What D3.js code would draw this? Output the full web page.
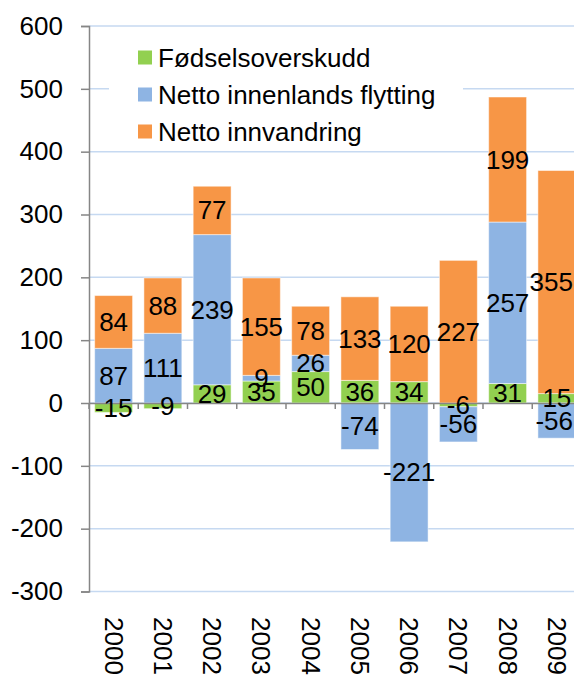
<!DOCTYPE html>
<html>
<head>
<meta charset="utf-8">
<script src="https://cdn.jsdelivr.net/npm/d3@7"></script>
<style>
  body { margin: 0; background: #fff; }
  text { font-family: "Liberation Sans", Arial, sans-serif; fill: #000; }
</style>
</head>
<body>
<svg id="chart" width="574" height="675"></svg>
<script>
// data
var years = ['2000', '2001', '2002', '2003', '2004', '2005', '2006', '2007', '2008', '2009'];
var seriesNames = ['Fødselsoverskudd', 'Netto innenlands flytting', 'Netto innvandring'];
var fodsel = [-15, -9, 29, 35, 50, 36, 34, -6, 31, 15];
var innenlands = [87, 111, 239, 9, 26, -74, -221, -56, 257, -56];
var innvandring = [84, 88, 77, 155, 78, 133, 120, 227, 199, 355];
var yTicks = [-300, -200, -100, 0, 100, 200, 300, 400, 500, 600];
var colors = ['#92d050', '#8eb4e3', '#f79646'];

var FONT = 26;
var W = 574;
var svg = d3.select('#chart');

var rows = years.map(function(y, i) {
  var r = { year: y };
  r[seriesNames[0]] = fodsel[i];
  r[seriesNames[1]] = innenlands[i];
  r[seriesNames[2]] = innvandring[i];
  return r;
});

var stacked = d3.stack()
  .keys(seriesNames)
  .offset(d3.stackOffsetDiverging)(rows);

var x = d3.scaleBand()
  .domain(years)
  .range([89, 581.5])
  .paddingInner(0.23)
  .paddingOuter(0.115);

var y = d3.scaleLinear()
  .domain([-300, 600])
  .range([591.5, 26]);

// gridlines
svg.append('g')
  .selectAll('line')
  .data(yTicks)
  .enter()
  .append('line')
  .attr('x1', 89)
  .attr('x2', W)
  .attr('y1', function(d) { return y(d); })
  .attr('y2', function(d) { return y(d); })
  .attr('stroke', '#c6d9f1')
  .attr('stroke-width', 1.5);

// bars
var layers = svg.append('g')
  .selectAll('g')
  .data(stacked)
  .enter()
  .append('g')
  .attr('fill', function(d, i) { return colors[i]; });

layers.selectAll('rect')
  .data(function(d) { return d; })
  .enter()
  .append('rect')
  .attr('x', function(d) { return x(d.data.year); })
  .attr('width', x.bandwidth())
  .attr('y', function(d) { return y(Math.max(d[0], d[1])); })
  .attr('height', function(d) { return Math.abs(y(d[0]) - y(d[1])); })
  .attr('stroke', '#fff')
  .attr('stroke-opacity', 0.5)
  .attr('stroke-width', 1);

// y axis
var yAxis = d3.axisLeft(y)
  .tickValues(yTicks)
  .tickFormat(function(d) { return String(d); })
  .tickSize(8)
  .tickPadding(18);

var gy = svg.append('g')
  .attr('transform', 'translate(89,0)')
  .call(yAxis);
gy.select('.domain').attr('stroke', '#868686').attr('stroke-width', 1.5);
gy.selectAll('.tick line').attr('stroke', '#868686').attr('stroke-width', 1.5);
gy.selectAll('.tick text')
  .attr('font-size', FONT)
  .attr('font-family', '"Liberation Sans", Arial, sans-serif')
  .attr('fill', '#000');

// x axis on the zero line
var xAxis = d3.axisBottom(x).tickSize(0).tickFormat('');
var gx = svg.append('g')
  .attr('transform', 'translate(0,' + y(0) + ')')
  .call(xAxis);
gx.select('.domain').attr('stroke', '#868686').attr('stroke-width', 1.5);

// ticks between categories
gx.selectAll('.sep')
  .data(d3.range(years.length + 1))
  .enter()
  .append('line')
  .attr('class', 'sep')
  .attr('x1', function(i) { return 89 + i * x.step(); })
  .attr('x2', function(i) { return 89 + i * x.step(); })
  .attr('y1', 0)
  .attr('y2', 6)
  .attr('stroke', '#868686')
  .attr('stroke-width', 1.5);

// year labels, rotated
svg.append('g')
  .selectAll('text')
  .data(years)
  .enter()
  .append('text')
  .attr('transform', function(d) {
    return 'translate(' + (x(d) + x.bandwidth() / 2) + ',617) rotate(90)';
  })
  .attr('dominant-baseline', 'central')
  .attr('font-size', FONT)
  .text(function(d) { return d; });

// data labels on top of every bar
var labelData = [];
stacked.forEach(function(layer) {
  layer.forEach(function(p) {
    labelData.push({ year: p.data.year, mid: (p[0] + p[1]) / 2, value: p.data[layer.key] });
  });
});

svg.append('g')
  .selectAll('text')
  .data(labelData)
  .enter()
  .append('text')
  .attr('y', function(d) { return y(d.mid); })
  .attr('text-anchor', 'middle')
  .attr('dominant-baseline', 'central')
  .attr('font-size', FONT)
  .text(function(d) { return d.value; })
  .attr('x', function(d) {
    // keep labels inside the picture like the original does
    var cx = x(d.year) + x.bandwidth() / 2;
    var half = this.getComputedTextLength() / 2;
    return Math.min(cx, W - half - 1);
  });

// legend
var legend = svg.append('g').attr('class', 'legend');
legend.append('rect')
  .attr('x', 109)
  .attr('y', 36)
  .attr('width', 354)
  .attr('height', 112)
  .attr('fill', '#fff');

var item = legend.selectAll('.series')
  .data(seriesNames)
  .enter()
  .append('g')
  .attr('class', 'series')
  .attr('transform', function(d, i) { return 'translate(138,' + (57.5 + i * 37) + ')'; });

item.append('rect')
  .attr('x', 0)
  .attr('y', -7)
  .attr('width', 14)
  .attr('height', 14)
  .attr('fill', function(d, i) { return colors[i]; });

item.append('text')
  .attr('x', 20)
  .attr('y', 0)
  .attr('dominant-baseline', 'central')
  .attr('font-size', FONT)
  .text(function(d) { return d; });
</script>
</body>
</html>
